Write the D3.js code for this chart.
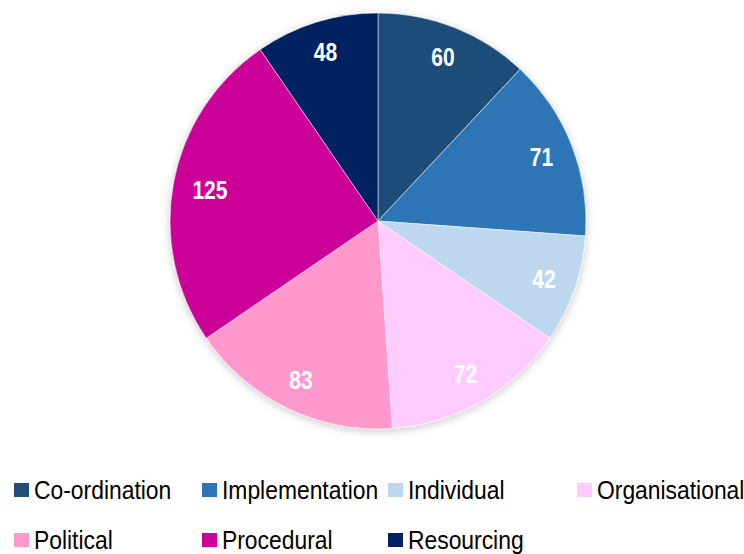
<!DOCTYPE html>
<html><head><meta charset="utf-8">
<script src="https://cdn.jsdelivr.net/npm/d3@7"></script>
<style>body{margin:0;background:#fff}svg{display:block}</style>
</head><body>
<script>
const categories = ["Co-ordination","Implementation","Individual","Organisational","Political","Procedural","Resourcing"];
const values = [60,71,42,72,83,125,48];
const colors = ["#1F4E79","#2E75B6","#BDD7EE","#FFCCFF","#FF99CC","#CC0099","#002060"];
const legendRows = [[0,1,2,3],[4,5,6]];
const legendX = [14,202,388,577];

const W=744,H=554, cx=378, cy=221, R=208;
const font = "'Liberation Sans',Arial,sans-serif";
const svg = d3.select("body").append("svg").attr("width",W).attr("height",H);
const defs = svg.append("defs");
const f = defs.append("filter").attr("id","sh").attr("x","-20%").attr("y","-20%").attr("width","140%").attr("height","140%");
f.append("feGaussianBlur").attr("in","SourceAlpha").attr("stdDeviation",5).attr("result","b");
f.append("feOffset").attr("in","b").attr("dx",0).attr("dy",2).attr("result","o");
f.append("feComponentTransfer").attr("in","o").attr("result","o2").append("feFuncA").attr("type","linear").attr("slope",0.22);
const m = f.append("feMerge"); m.append("feMergeNode").attr("in","o2"); m.append("feMergeNode").attr("in","SourceGraphic");

const data = categories.map((c,i)=>({c, v:values[i], col:colors[i]}));
const pie = d3.pie().value(d=>d.v).sort(null);
const arcs = pie(data);
const arc = d3.arc().innerRadius(0).outerRadius(R);
const g = svg.append("g").attr("transform",`translate(${cx},${cy})`);
g.append("g").attr("filter","url(#sh)").selectAll("path").data(arcs).join("path")
 .attr("d",arc).attr("fill",d=>d.data.col).attr("stroke","#fff").attr("stroke-width",0.5);

const sx = 0.81, fs = 26;
function labelPos(d){
  const a = (d.startAngle+d.endAngle)/2;
  const s = Math.sin(a), c = -Math.cos(a);
  const hw = String(d.data.v).length*0.556*fs*sx/2, hh = 9.5;
  const r = R - 18 - (Math.abs(s)*hw + Math.abs(c)*hh);
  return [s*r, c*r];
}
g.selectAll("text").data(arcs).join("text")
 .attr("transform",d=>`translate(${labelPos(d)}) scale(${sx},1)`)
 .attr("text-anchor","middle").attr("dy","0.36em")
 .attr("font-family",font).attr("font-weight","bold").attr("font-size",fs).attr("fill","#fff")
 .text(d=>d.data.v);

const lg = svg.append("g");
legendRows.forEach((row,ri)=>{
  row.forEach((idx,ci)=>{
    const x=legendX[ci], yb=499+ri*50;
    lg.append("rect").attr("x",x).attr("y",yb-16).attr("width",15).attr("height",14).attr("fill",colors[idx]);
    lg.append("text").attr("transform",`translate(${x+20},${yb}) scale(0.88,1)`)
      .attr("font-family",font).attr("font-size",26).attr("fill","#000").text(categories[idx]);
  });
});
</script>
</body></html>
